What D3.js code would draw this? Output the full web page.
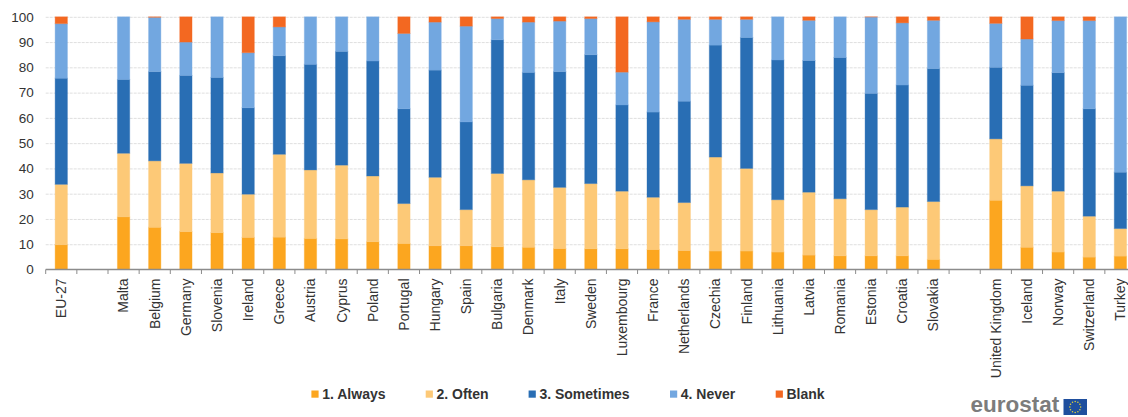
<!DOCTYPE html>
<html>
<head>
<meta charset="utf-8">
<script src="https://cdn.jsdelivr.net/npm/d3@7/dist/d3.min.js"></script>
<style>
  html, body { margin: 0; padding: 0; background: #fff; }
  svg { display: block; font-family: "Liberation Sans", Arial, sans-serif; }
</style>
</head>
<body>
<svg id="chart" width="1128" height="417"></svg>
<script>
// Spacer categories (blank names) separate the EU-27 total, the member states and the other countries.
const categories = ["EU-27", " ", "Malta", "Belgium", "Germany", "Slovenia", "Ireland", "Greece", "Austria", "Cyprus", "Poland", "Portugal", "Hungary", "Spain", "Bulgaria", "Denmark", "Italy", "Sweden", "Luxembourg", "France", "Netherlands", "Czechia", "Finland", "Lithuania", "Latvia", "Romania", "Estonia", "Croatia", "Slovakia", "  ", "United Kingdom", "Iceland", "Norway", "Switzerland", "Turkey"];

const always    = [9.8, 0, 20.8, 16.7, 15, 14.6, 12.7, 12.8, 12.3, 12.1, 11, 10.3, 9.4, 9.4, 9, 8.8, 8.3, 8.2, 8.2, 7.9, 7.5, 7.3, 7.3, 6.9, 5.7, 5.4, 5.4, 5.4, 4, 0, 27.4, 8.8, 6.9, 4.9, 5.3];
const often     = [23.9, 0, 25.2, 26.3, 27, 23.6, 17.1, 32.8, 27.1, 29.2, 26, 15.8, 27.1, 14.3, 29, 26.7, 24.2, 25.8, 22.8, 20.7, 19, 37.2, 32.7, 20.7, 24.9, 22.6, 18.3, 19.3, 22.9, 0, 24.3, 24.3, 24.1, 16.2, 10.9];
const sometimes = [42, 0, 29.2, 35.3, 34.8, 37.8, 34.2, 39, 41.8, 45, 45.5, 37.5, 42.4, 34.7, 52.9, 42.5, 45.8, 51, 34.1, 33.7, 40.1, 44.3, 51.8, 55.3, 52.1, 55.9, 46, 48.3, 52.6, 0, 28.3, 39.8, 46.9, 42.5, 22.3];
const never     = [21.6, 0, 24.8, 21.5, 13.2, 24, 21.8, 11.4, 18.8, 13.7, 17.5, 29.8, 19, 37.9, 8.4, 19.9, 20, 14.3, 13, 35.7, 32.4, 10.2, 7.2, 17.1, 15.9, 16.1, 30.2, 24.6, 19.1, 0, 17.4, 18.3, 20.6, 34.9, 61.5];
const blank     = [2.7, 0, 0, 0.2, 10, 0, 14.2, 4, 0, 0, 0, 6.6, 2.1, 3.7, 0.7, 2.1, 1.7, 0.7, 21.9, 2, 1, 1, 1, 0, 1.4, 0, 0.1, 2.4, 1.4, 0, 2.6, 8.8, 1.5, 1.5, 0];

const seriesNames = ["1. Always", "2. Often", "3. Sometimes", "4. Never", "Blank"];
const seriesValues = [always, often, sometimes, never, blank];
const seriesColors = ["#fca61f", "#fdc977", "#296eb4", "#72a7e0", "#f36821"];
const yTicks = [0, 10, 20, 30, 40, 50, 60, 70, 80, 90, 100];

const plot = { left: 45.7, right: 1136, top: 16.8, bottom: 269.5 };
const legendAt = [311.4, 425.7, 528.6, 670, 775.7];

const svg = d3.select("#chart");

const x = d3.scaleBand()
  .domain(categories)
  .range([plot.left, plot.right])
  .paddingInner(0.605)
  .paddingOuter(0.3025);
const y = d3.scaleLinear().domain([0, 100]).range([plot.bottom, plot.top]);

// Horizontal gridlines and value labels
const yAxis = svg.append("g")
  .attr("transform", `translate(${plot.left},0)`)
  .call(d3.axisLeft(y).tickValues(yTicks).tickSize(0).tickPadding(12));
yAxis.select(".domain").remove();
yAxis.selectAll("text")
  .attr("font-size", 13.5)
  .attr("font-family", "Liberation Sans, Arial, sans-serif")
  .attr("fill", "#333");
yAxis.selectAll(".tick").filter(d => d > 0).append("line")
  .attr("x1", 0)
  .attr("x2", plot.right - plot.left)
  .attr("stroke", "#dfdfdf")
  .attr("stroke-dasharray", "3 1");

// Stacked bars
const rows = categories.map((c, i) => {
  const row = { category: c };
  seriesNames.forEach((s, k) => { row[s] = seriesValues[k][i]; });
  return row;
});
const stacked = d3.stack().keys(seriesNames)(rows);

svg.append("g")
  .selectAll("g")
  .data(stacked)
  .join("g")
  .attr("fill", (d, i) => seriesColors[i])
  .attr("stroke", (d, i) => seriesColors[i])
  .attr("stroke-opacity", 0.35)
  .attr("stroke-width", 1)
  .selectAll("rect")
  .data(d => d.filter(p => p[1] - p[0] > 0))
  .join("rect")
  .attr("x", d => x(d.data.category))
  .attr("width", x.bandwidth())
  .attr("y", d => y(d[1]))
  .attr("height", d => y(d[0]) - y(d[1]));

// Category axis: ticks sit between the bars, labels read upwards under each bar
const xAxis = svg.append("g")
  .attr("transform", `translate(0,${plot.bottom})`)
  .call(d3.axisBottom(x).tickSize(0));
xAxis.select(".domain").remove();
xAxis.selectAll("text")
  .attr("font-size", 14)
  .attr("font-family", "Liberation Sans, Arial, sans-serif")
  .attr("fill", "#333")
  .attr("text-anchor", "end")
  .attr("transform", "rotate(-90)")
  .attr("x", -9)
  .attr("y", 0)
  .attr("dy", "0.35em");

const edgeOffset = (x.step() - x.bandwidth()) / 2;
xAxis.selectAll("line.edge")
  .data(categories)
  .join("line")
  .attr("class", "edge")
  .attr("x1", d => x(d) - edgeOffset)
  .attr("x2", d => x(d) - edgeOffset)
  .attr("y1", 0)
  .attr("y2", 4.5)
  .attr("stroke", "#8c8c8c");
xAxis.append("line")
  .attr("x1", plot.left)
  .attr("x2", plot.right)
  .attr("stroke", "#8c8c8c")
  .attr("stroke-width", 1.6);

// Legend
const legend = svg.append("g")
  .selectAll("g")
  .data(seriesNames)
  .join("g")
  .attr("transform", (d, i) => `translate(${legendAt[i]},390.5)`);
legend.append("rect")
  .attr("width", 7.2)
  .attr("height", 7.2)
  .attr("fill", (d, i) => seriesColors[i]);
legend.append("text")
  .attr("x", 10.8)
  .attr("y", 8.5)
  .attr("font-size", 14)
  .attr("font-weight", "bold")
  .attr("fill", "#333")
  .text(d => d);

// Publisher mark: wordmark and a flag with a ring of twelve stars
const brand = svg.append("g");
brand.append("text")
  .attr("x", 970.5)
  .attr("y", 412.2)
  .attr("font-size", 22.5)
  .attr("font-weight", "bold")
  .attr("font-family", "Liberation Sans, Arial, sans-serif")
  .attr("fill", "#7c7c7c")
  .text("eurostat");
brand.append("rect")
  .attr("x", 1063.5)
  .attr("y", 399)
  .attr("width", 23.5)
  .attr("height", 16)
  .attr("fill", "#1f4f9e");
const flagStars = d3.range(12).map(i => i * Math.PI / 6);
brand.selectAll("circle")
  .data(flagStars)
  .join("circle")
  .attr("cx", a => 1075.2 + 5.4 * Math.cos(a))
  .attr("cy", a => 407 + 5.4 * Math.sin(a))
  .attr("r", 0.75)
  .attr("fill", "#e3d43a");
</script>
</body>
</html>
